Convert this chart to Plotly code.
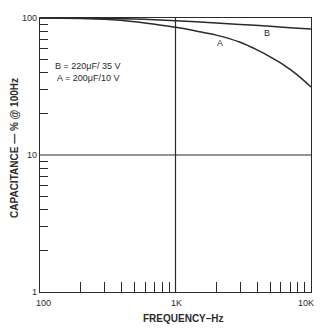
import math
import plotly.graph_objects as go

freq_a = [100, 200, 300, 500, 700, 1000, 1500, 2000, 3000, 4000, 5000, 6000, 7000, 8000, 10000]
cap_a = [100, 99.2, 97.8, 94, 90, 85.5, 79.5, 75, 66.5, 58.5, 52.1, 46.8, 42.1, 38.1, 31.4]
freq_b = [100, 200, 300, 500, 700, 1000, 2000, 3000, 5000, 7000, 10000]
cap_b = [100, 99.8, 99.4, 98.4, 97, 95.5, 92, 89.8, 87, 85, 83]

x_minor = [200, 300, 400, 500, 600, 700, 800, 900, 2000, 3000, 4000, 5000, 6000, 7000, 8000, 9000]
y_minor = [2, 3, 4, 5, 6, 7, 8, 9, 20, 30, 40, 50, 60, 70, 80, 90]
x_tick_vals = [100, 1000, 10000]
x_tick_text = ["100", "1K", "10K"]
y_tick_vals = [1, 10, 100]
y_tick_text = ["1", "10", "100"]

ink = "#2a2a2a"
fam = "Liberation Sans, Arial, sans-serif"
font = dict(family=fam, size=9, color=ink)

fig = go.Figure()
fig.add_trace(go.Scatter(x=freq_b, y=cap_b, mode="lines", line=dict(color=ink, width=1.5, shape="spline", smoothing=0.6), showlegend=False))
fig.add_trace(go.Scatter(x=freq_a, y=cap_a, mode="lines", line=dict(color=ink, width=1.5, shape="spline", smoothing=0.6), showlegend=False))

# grid lines at major decades
fig.add_shape(type="line", xref="x", yref="paper", x0=1000, x1=1000, y0=0, y1=1, line=dict(color=ink, width=1.2))
fig.add_shape(type="line", xref="paper", yref="y", x0=0, x1=1, y0=10, y1=10, line=dict(color=ink, width=1.2))

fig.update_xaxes(type="log", range=[2, 4], tickvals=x_tick_vals, showticklabels=False,
                 ticks="", showgrid=False, showline=True, linecolor=ink, linewidth=1.4, mirror=True,
                 zeroline=False, automargin=False,
                 minor=dict(tickvals=x_minor, ticks="inside", ticklen=10, tickcolor=ink, tickwidth=1, showgrid=False))
fig.update_yaxes(type="log", range=[0, 2], tickvals=y_tick_vals, ticktext=y_tick_text,
                 ticks="", showgrid=False, showline=True, linecolor=ink, linewidth=1.4, mirror=True,
                 tickfont=font, zeroline=False, automargin=False,
                 minor=dict(tickvals=y_minor, ticks="inside", ticklen=8, tickcolor=ink, tickwidth=1, showgrid=False))

# x tick labels as annotations so the last one stays inside the window
anchors = ["center", "center", "right"]
shifts = [3, 1, 5]
for v, t, a, s in zip(x_tick_vals, x_tick_text, anchors, shifts):
    fig.add_annotation(x=math.log10(v), y=-0.04, xref="x", yref="paper", xanchor=a, yanchor="middle",
                       xshift=s, text=t, showarrow=False, font=font)

fig.add_annotation(x=0.531, y=-0.097, xref="paper", yref="paper", xanchor="center", yanchor="middle",
                   text="<b>FREQUENCY–Hz</b>", showarrow=False, font=dict(family=fam, size=10, color=ink))
fig.add_annotation(x=-0.092, y=0.526, xref="paper", yref="paper", xanchor="center", yanchor="middle",
                   text="<b>CAPACITANCE — % @ 100Hz</b>",
                   textangle=-90, showarrow=False, font=dict(family=fam, size=10, color=ink))

fig.add_annotation(x=3.675, y=1.89, xref="x", yref="y", text="B", showarrow=False, font=font)
fig.add_annotation(x=3.33, y=1.818, xref="x", yref="y", text="A", showarrow=False, font=font)
fig.add_annotation(x=2.096, y=1.606, xref="x", yref="y", xanchor="left",
                   text="B = 220μF/ 35 V<br> A = 200μF/10 V", showarrow=False, align="left", font=font)

# page body has an 8px margin, so the figure is sized to fit inside the window
fig.update_layout(width=316, height=319, margin=dict(l=32, r=13, t=10, b=35),
                  paper_bgcolor="white", plot_bgcolor="white")
fig.write_html("out.html")
